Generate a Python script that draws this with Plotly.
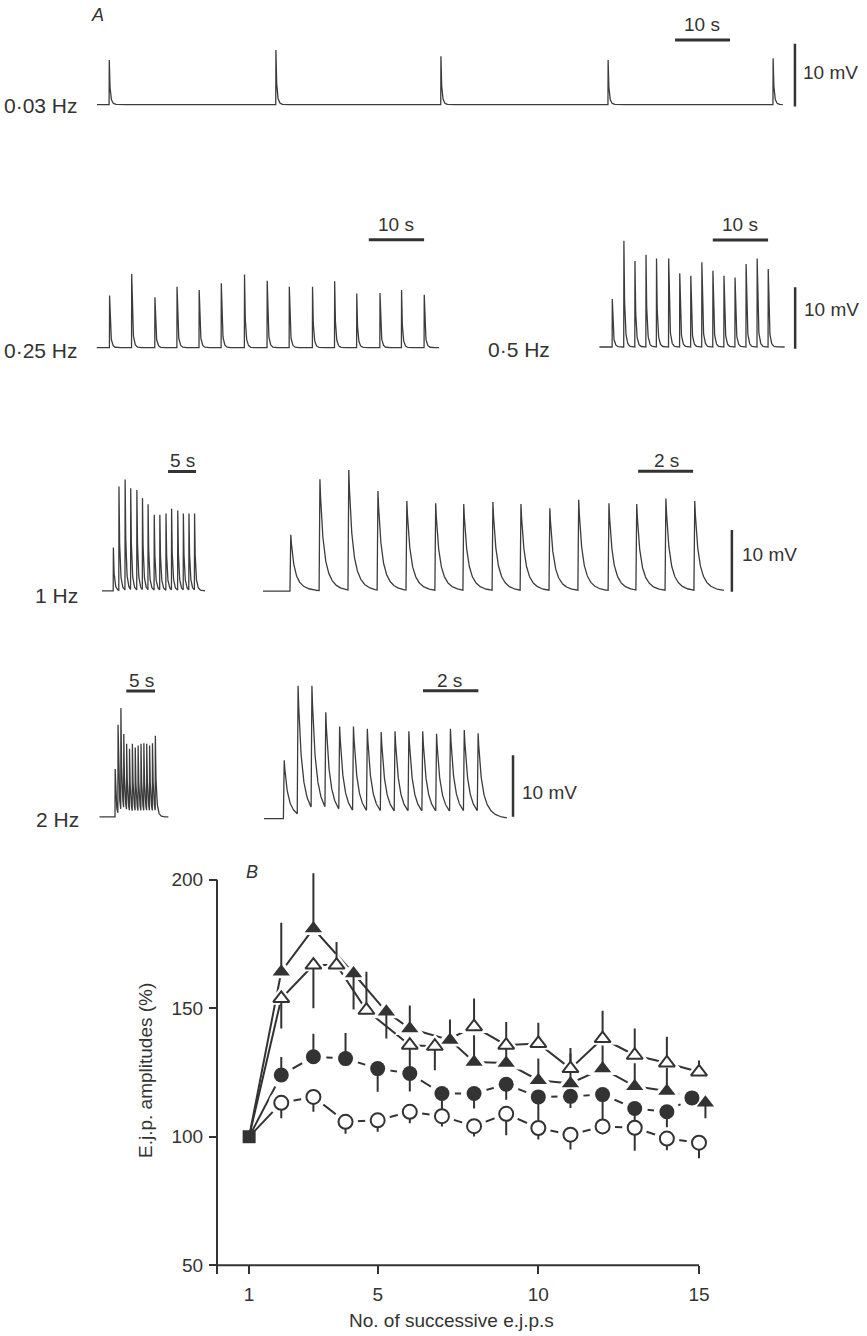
import numpy as np
import plotly.graph_objects as go

W, H = 867, 1336
INK = '#333333'
FONT = 'Liberation Sans'

# ---------------- Panel A: stimulus times (s) and e.j.p. peak heights (mV) ----------------
hz003_times = [2.2, 32.5, 62.5, 92.9, 122.9]
hz003_peaks = [7.1, 8.7, 7.7, 7.1, 7.4]
hz003_end = 124.7

hz025_times = [2.3, 6.3, 10.5, 14.5, 18.5, 22.5, 26.7, 30.8, 34.8, 39.0, 43.0, 47.0, 51.2, 55.1, 59.2]
hz025_peaks = [8.5, 12.0, 8.2, 9.9, 9.4, 10.5, 11.9, 10.9, 9.9, 9.9, 10.8, 8.8, 8.9, 9.4, 8.6]
hz025_end = 61.9

hz05_times = [2.3, 4.4, 6.4, 8.4, 10.3, 12.5, 14.5, 16.5, 18.5, 20.5, 22.5, 24.5, 26.5, 28.5, 30.5]
hz05_peaks = [7.8, 17.3, 14.0, 15.0, 14.4, 14.4, 12.0, 11.6, 13.8, 12.4, 11.6, 11.3, 13.5, 14.4, 12.7]
hz05_end = 33.5

hz1_slow_times = [2.0, 3.0, 4.1, 5.1, 6.2, 7.2, 8.2, 9.3, 10.3, 11.4, 12.4, 13.5, 14.5, 15.5, 16.5]
hz1_slow_peaks = [7.0, 16.9, 18.0, 16.6, 16.3, 15.0, 14.0, 12.3, 12.3, 12.5, 13.3, 13.0, 12.5, 12.5, 12.5]
hz1_slow_end = 18.4

hz1_fast_times = [0.98, 2.04, 3.09, 4.15, 5.20, 6.25, 7.27, 8.33, 9.35, 10.40, 11.45, 12.55, 13.56, 14.62, 15.67]
hz1_fast_peaks = [9.1, 18.1, 19.6, 16.2, 14.6, 14.2, 14.1, 14.4, 14.1, 13.4, 14.8, 14.2, 14.1, 15.0, 14.6]
hz1_fast_end = 16.76

hz2_slow_times = [2.7, 3.2, 3.7, 4.2, 4.7, 5.2, 5.7, 6.2, 6.7, 7.2, 7.7, 8.2, 8.7, 9.2, 9.7]
hz2_slow_peaks = [7.8, 15.0, 17.7, 13.5, 11.9, 11.1, 11.9, 11.3, 11.6, 11.9, 12.0, 11.9, 11.6, 12.0, 13.2]
hz2_slow_end = 12.0

hz2_fast_times = [0.7, 1.2, 1.7, 2.2, 2.7, 3.2, 3.7, 4.2, 4.7, 5.2, 5.7, 6.2, 6.7, 7.2, 7.7]
hz2_fast_peaks = [9.5, 21.6, 21.6, 17.3, 15.0, 15.0, 14.6, 14.1, 14.2, 14.2, 14.2, 13.8, 14.6, 14.4, 13.9]
hz2_fast_end = 8.77

# ---------------- Panel B: e.j.p. amplitudes (%) ----------------
ejp_number = [1, 2, 3, 4, 5, 6, 7, 8, 9, 10, 11, 12, 13, 14, 15]

tri_filled_x = [1, 2, 3, 4.25, 5.27, 6, 7.25, 8, 9, 10, 11, 12, 13, 14, 15.2]
tri_filled_y = [100, 164.2, 181.0, 163.5, 148.6, 142.1, 137.6, 129.1, 128.7, 122.0, 120.7, 126.5, 119.6, 117.8, 113.2]
tri_filled_up = [0, 19, 21.5, 0, 0, 9, 8, 10.4, 9, 8.4, 11.7, 9, 9, 9, 0]
tri_filled_dn = [0, 0, 0, 14, 10.4, 0, 0, 0, 0, 0, 0, 0, 0, 0, 6]

tri_open_x = [1, 2, 3, 3.72, 4.65, 6, 6.78, 8, 9, 10, 11, 12, 13, 14, 15]
tri_open_y = [100, 153.8, 166.8, 166.8, 149.2, 135.6, 135.2, 142.8, 135.6, 136.3, 126.5, 138.2, 131.7, 128.7, 125.2]
tri_open_up = [0, 0, 0, 9, 15, 0, 0, 11, 9, 8, 8, 10.8, 10.4, 10.2, 4.5]
tri_open_dn = [0, 11.7, 16.8, 0, 0, 9, 9.3, 0, 0, 0, 0, 0, 0, 0, 0]

dot_filled_x = [1, 2, 3, 4, 5, 6, 7, 8, 9, 10, 11, 12, 13, 14, 14.78]
dot_filled_y = [100, 124.0, 131.1, 130.4, 126.5, 124.6, 116.8, 116.8, 120.4, 115.5, 115.7, 116.4, 111.0, 109.7, 115.1]
dot_filled_up = [0, 7, 9, 10, 0, 0, 0, 0, 0, 0, 0, 0, 0, 0, 0]
dot_filled_dn = [0, 0, 0, 0, 9, 7, 8, 5.8, 6, 9, 4.5, 10, 6.5, 6, 0]

dot_open_x = ejp_number
dot_open_y = [100, 113.2, 115.5, 105.8, 106.4, 109.7, 108.0, 104.1, 108.9, 103.4, 100.8, 104.0, 103.5, 99.3, 97.7]
dot_open_up = [0] * 15
dot_open_dn = [0, 6, 5.8, 4.6, 4.5, 4.5, 4, 4, 8.3, 4.5, 5.8, 3, 9, 4.6, 6.1]

# ---------------- helpers ----------------
TR = 0.03


def kernel(s):
    s = np.asarray(s, float)
    out = np.zeros_like(s)
    rise = (s >= 0) & (s < TR)
    out[rise] = s[rise] / TR
    d = s >= TR
    u = s[d] - TR
    out[d] = 0.5 * np.exp(-u / 0.09) + 0.5 * np.exp(-u / 0.26)
    return out


def waveform(times, peaks, t_end, dt):
    times = np.asarray(times, float)
    amps = []
    for i, (ti, pk) in enumerate(zip(times, peaks)):
        resid = sum(a * kernel(np.array([ti + TR - tj]))[0] for a, tj in zip(amps, times[:i]))
        amps.append(pk - resid)
    pieces = [np.arange(0, t_end, dt), np.array([t_end])]
    for ti in times:
        pieces.append(ti + np.concatenate([[0.0, TR], TR + np.geomspace(1e-3, 1.5, 70)]))
    t = np.concatenate(pieces)
    t = np.unique(t[(t >= 0) & (t <= t_end)])
    v = np.zeros_like(t)
    for a, ti in zip(amps, times):
        v += a * kernel(t - ti)
    return t, v


def px(x, y):
    return x / W, 1 - y / H


fig = go.Figure()
layout_axes = {}
shapes = []
annotations = []

# geometry of each recording (pixel placement on the page)
recordings = [
    dict(times=hz003_times, peaks=hz003_peaks, end=hz003_end, dt=0.1,
         x0=97, pps=5.5, base=105, ppmv=6.3, box=(93, 10, 806, 115),
         sbar=(105.1, 10, 10.3), mvbar=(126.9, -0.3)),
    dict(times=hz025_times, peaks=hz025_peaks, end=hz025_end, dt=0.1,
         x0=96.7, pps=5.53, base=349, ppmv=6.17, box=(93, 230, 445, 362),
         sbar=(49.2, 10, 17.55), mvbar=None),
    dict(times=hz05_times, peaks=hz05_peaks, end=hz05_end, dt=0.1,
         x0=599.4, pps=5.53, base=348.3, ppmv=6.17, box=(596, 230, 806, 362),
         sbar=(20.5, 10, 17.4), mvbar=(35.4, -0.3)),
    dict(times=hz1_slow_times, peaks=hz1_slow_peaks, end=hz1_slow_end, dt=0.05,
         x0=102, pps=5.6, base=593, ppmv=6.2, box=(99, 465, 212, 602),
         sbar=(11.8, 5, 19.3), mvbar=None),
    dict(times=hz1_fast_times, peaks=hz1_fast_peaks, end=hz1_fast_end, dt=0.01,
         x0=263, pps=27.5, base=593.3, ppmv=6.2, box=(259, 465, 740, 602),
         sbar=(13.64, 2, 19.4), mvbar=(17.05, -0.1)),
    dict(times=hz2_slow_times, peaks=hz2_slow_peaks, end=hz2_slow_end, dt=0.05,
         x0=99.5, pps=5.74, base=820, ppmv=6.17, box=(96, 685, 176, 828),
         sbar=(4.67, 5, 20.5), mvbar=None),
    dict(times=hz2_fast_times, peaks=hz2_fast_peaks, end=hz2_fast_end, dt=0.01,
         x0=264, pps=27.7, base=821.7, ppmv=6.17, box=(260, 685, 520, 828),
         sbar=(5.74, 2, 20.8), mvbar=(8.99, 0.3)),
]

for k, r in enumerate(recordings, start=1):
    xs = '' if k == 1 else str(k)
    left, top, right, bottom = r['box']
    t_lo = (left - r['x0']) / r['pps']
    t_hi = (right - r['x0']) / r['pps']
    v_lo = (r['base'] - bottom) / r['ppmv']
    v_hi = (r['base'] - top) / r['ppmv']
    layout_axes['xaxis' + xs] = dict(domain=[left / W, right / W], range=[t_lo, t_hi],
                                    visible=False, anchor='y' + xs, fixedrange=True)
    layout_axes['yaxis' + xs] = dict(domain=[1 - bottom / H, 1 - top / H], range=[v_lo, v_hi],
                                    visible=False, anchor='x' + xs, fixedrange=True)
    t, v = waveform(r['times'], r['peaks'], r['end'], r['dt'])
    fig.add_trace(go.Scatter(x=t, y=v, mode='lines', xaxis='x' + xs, yaxis='y' + xs,
                             line=dict(color='#3c3c3c', width=1.3), hoverinfo='skip',
                             showlegend=False))
    s0, slen, sv = r['sbar']
    shapes.append(dict(type='line', xref='x' + xs, yref='y' + xs, x0=s0, x1=s0 + slen,
                       y0=sv, y1=sv, line=dict(color=INK, width=3)))
    if r['mvbar'] is not None:
        mt, mv0 = r['mvbar']
        shapes.append(dict(type='line', xref='x' + xs, yref='y' + xs, x0=mt, x1=mt,
                           y0=mv0, y1=mv0 + 10, line=dict(color=INK, width=2.5)))


def label(text, x, y, xanchor='left', size=19, italic=False, angle=0):
    xx, yy = px(x, y)
    annotations.append(dict(text=('<i>%s</i>' % text) if italic else text, x=xx, y=yy,
                            xref='paper', yref='paper', xanchor=xanchor, yanchor='middle',
                            showarrow=False, textangle=angle,
                            font=dict(family=FONT, size=size, color=INK)))


label('A', 97, 15, 'center', 18, italic=True)
label('0·03 Hz', 2, 106, size=21)
label('10 s', 702, 25, 'center')
label('10 mV', 801, 73)
label('0·25 Hz', 2, 352, size=21)
label('10 s', 396, 225, 'center')
label('0·5 Hz', 486, 351, size=21)
label('10 s', 740, 225, 'center')
label('10 mV', 802, 311)
label('5 s', 182, 462, 'center')
label('2 s', 666, 462, 'center')
label('1 Hz', 33, 598, size=21)
label('10 mV', 740, 557)
label('5 s', 141, 683, 'center')
label('2 s', 450, 683, 'center')
label('2 Hz', 34, 823, size=21)
label('10 mV', 520, 795)

# ---------------- Panel B ----------------
BX = 'x8'
BY = 'y8'
ax0_px, ax15_px = 217, 699
ay200_px, ay50_px = 883, 1270
ppx = (ax15_px - ax0_px) / 15.0
ppy = (ay50_px - ay200_px) / 150.0
bx_lo, bx_hi = -0.3, 15.5
by_lo, by_hi = 48, 204
dom_left = ax0_px + bx_lo * ppx
dom_right = ax0_px + bx_hi * ppx
dom_top = ay200_px - (by_hi - 200) * ppy
dom_bottom = ay50_px + (50 - by_lo) * ppy

tickfont = dict(family=FONT, size=19, color=INK)
layout_axes['xaxis8'] = dict(domain=[dom_left / W, dom_right / W], range=[bx_lo, bx_hi],
                             anchor='free', position=1 - ay50_px / H, showline=False,
                             showgrid=False, zeroline=False, ticks='outside', ticklen=8,
                             tickwidth=2, tickcolor=INK, tickvals=[0, 1, 5, 10, 15],
                             ticktext=['', '1', '5', '10', '15'], tickfont=tickfont,
                             ticklabelstandoff=4, fixedrange=True)
layout_axes['yaxis8'] = dict(domain=[1 - dom_bottom / H, 1 - dom_top / H], range=[by_lo, by_hi],
                             anchor='free', position=ax0_px / W, showline=False,
                             showgrid=False, zeroline=False, ticks='outside', ticklen=8,
                             tickwidth=2, tickcolor=INK, tickvals=[50, 100, 150, 200],
                             tickfont=tickfont, ticklabelstandoff=2, fixedrange=True)
shapes.append(dict(type='line', xref=BX, yref=BY, x0=0, x1=15, y0=50, y1=50,
                   line=dict(color=INK, width=2)))
shapes.append(dict(type='line', xref=BX, yref=BY, x0=0, x1=0, y0=50, y1=200,
                   line=dict(color=INK, width=2)))

series = [
    (tri_filled_x, tri_filled_y, tri_filled_up, tri_filled_dn, 'triangle-up', True, 15),
    (tri_open_x, tri_open_y, tri_open_up, tri_open_dn, 'triangle-up', False, 14),
    (dot_filled_x, dot_filled_y, dot_filled_up, dot_filled_dn, 'circle', True, 15),
    (dot_open_x, dot_open_y, dot_open_up, dot_open_dn, 'circle', False, 14),
]

for sx, sy, up, dn, sym, filled, size in series:
    fig.add_trace(go.Scatter(x=sx, y=sy, mode='lines', xaxis=BX, yaxis=BY,
                             line=dict(color=INK, width=2), hoverinfo='skip', showlegend=False))
for sx, sy, up, dn, sym, filled, size in series:
    fig.add_trace(go.Scatter(x=sx[1:], y=sy[1:], mode='markers', xaxis=BX, yaxis=BY,
                             marker=dict(symbol=sym, size=size + 11, color='white', line=dict(width=0)),
                             hoverinfo='skip', showlegend=False, cliponaxis=False))
for sx, sy, up, dn, sym, filled, size in series:
    fig.add_trace(go.Scatter(
        x=sx[1:], y=sy[1:], mode='markers', xaxis=BX, yaxis=BY,
        marker=dict(symbol=sym, size=size, color=INK if filled else 'white',
                    line=dict(color=INK, width=0 if filled else 2)),
        error_y=dict(type='data', symmetric=False, array=up[1:], arrayminus=dn[1:],
                     color=INK, thickness=2, width=0),
        hoverinfo='skip', showlegend=False, cliponaxis=False))

fig.add_trace(go.Scatter(x=[ejp_number[0]], y=[100], mode='markers', xaxis=BX, yaxis=BY,
                         marker=dict(symbol='square', size=13, color=INK),
                         hoverinfo='skip', showlegend=False, cliponaxis=False))

label('B', 252, 875, 'center', 18, italic=True)
label('No. of successive e.j.p.s', 452, 1325, 'center', 19)
label('E.j.p. amplitudes (%)', 146, 1075, 'center', 19, angle=-90)

fig.update_layout(width=W, height=H, margin=dict(l=0, r=0, t=0, b=0),
                  paper_bgcolor='white', plot_bgcolor='rgba(0,0,0,0)',
                  showlegend=False, shapes=shapes, annotations=annotations,
                  font=dict(family=FONT, color=INK), **layout_axes)

fig.write_html('out.html', config={'displayModeBar': False, 'staticPlot': True},
               post_script="document.body.style.margin='0';document.body.style.overflow='hidden';")
